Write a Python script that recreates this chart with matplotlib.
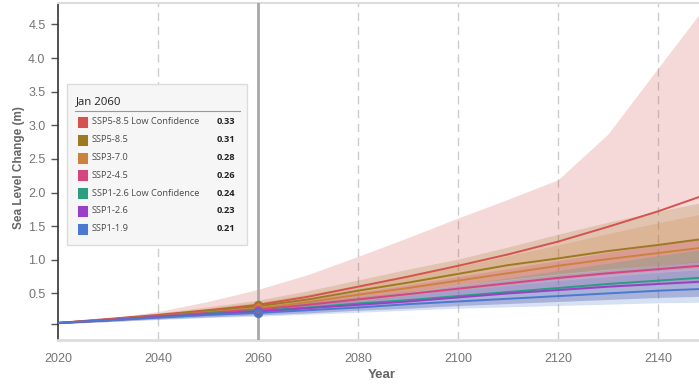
import matplotlib.pyplot as plt
import matplotlib.patches as mpatches
from matplotlib.colors import to_rgba

# decadal projection years
years = [2020, 2030, 2040, 2050, 2060, 2070, 2080, 2090, 2100, 2110, 2120, 2130, 2140, 2150]

scenarios = ['SSP5-8.5 Low Confidence', 'SSP5-8.5', 'SSP3-7.0', 'SSP2-4.5',
             'SSP1-2.6 Low Confidence', 'SSP1-2.6', 'SSP1-1.9']
colors = ['#d5534f', '#9c7a22', '#cb823f', '#d3467f', '#2b9d80', '#9a40c6', '#4c78cf']

# median (m)
ssp585_lc_med = [0.06, 0.12, 0.18, 0.25, 0.33, 0.45, 0.60, 0.75, 0.91, 1.08, 1.27, 1.49, 1.72, 1.98]
ssp585_med = [0.06, 0.11, 0.17, 0.24, 0.31, 0.41, 0.54, 0.66, 0.79, 0.92, 1.02, 1.13, 1.22, 1.32]
ssp370_med = [0.06, 0.11, 0.16, 0.22, 0.28, 0.37, 0.48, 0.58, 0.69, 0.80, 0.91, 1.01, 1.10, 1.19]
ssp245_med = [0.06, 0.11, 0.16, 0.21, 0.26, 0.33, 0.41, 0.49, 0.57, 0.65, 0.73, 0.80, 0.86, 0.92]
ssp126_lc_med = [0.06, 0.10, 0.15, 0.20, 0.24, 0.29, 0.35, 0.40, 0.46, 0.52, 0.58, 0.64, 0.69, 0.74]
ssp126_med = [0.06, 0.10, 0.15, 0.19, 0.23, 0.28, 0.33, 0.38, 0.44, 0.50, 0.55, 0.60, 0.64, 0.68]
ssp119_med = [0.06, 0.10, 0.14, 0.18, 0.21, 0.25, 0.29, 0.34, 0.38, 0.42, 0.46, 0.50, 0.54, 0.57]

# 17th-83rd percentile range (m)
ssp585_lc_lo = [0.05, 0.09, 0.14, 0.19, 0.25, 0.33, 0.42, 0.52, 0.63, 0.71, 0.79, 0.86, 0.92, 0.98]
ssp585_lc_hi = [0.07, 0.13, 0.23, 0.38, 0.56, 0.78, 1.05, 1.33, 1.62, 1.90, 2.19, 2.87, 3.85, 4.82]
ssp585_lo = [0.05, 0.09, 0.14, 0.19, 0.25, 0.33, 0.42, 0.52, 0.63, 0.71, 0.79, 0.86, 0.92, 0.98]
ssp585_hi = [0.07, 0.13, 0.21, 0.30, 0.40, 0.54, 0.70, 0.86, 1.01, 1.19, 1.38, 1.56, 1.72, 1.87]
ssp370_lo = [0.05, 0.09, 0.13, 0.18, 0.23, 0.30, 0.38, 0.46, 0.55, 0.63, 0.71, 0.78, 0.84, 0.89]
ssp370_hi = [0.07, 0.13, 0.20, 0.28, 0.37, 0.49, 0.62, 0.76, 0.90, 1.06, 1.22, 1.39, 1.55, 1.70]
ssp245_lo = [0.05, 0.09, 0.13, 0.17, 0.21, 0.26, 0.31, 0.37, 0.44, 0.49, 0.54, 0.59, 0.63, 0.66]
ssp245_hi = [0.07, 0.13, 0.19, 0.26, 0.34, 0.43, 0.52, 0.63, 0.75, 0.87, 0.99, 1.11, 1.22, 1.33]
ssp126_lc_lo = [0.05, 0.08, 0.12, 0.15, 0.18, 0.21, 0.25, 0.28, 0.32, 0.35, 0.38, 0.41, 0.44, 0.46]
ssp126_lc_hi = [0.07, 0.12, 0.18, 0.24, 0.30, 0.37, 0.45, 0.53, 0.63, 0.73, 0.84, 0.95, 1.06, 1.17]
ssp126_lo = [0.05, 0.08, 0.12, 0.15, 0.18, 0.21, 0.25, 0.28, 0.32, 0.35, 0.38, 0.41, 0.44, 0.46]
ssp126_hi = [0.07, 0.12, 0.18, 0.23, 0.29, 0.36, 0.43, 0.51, 0.62, 0.70, 0.78, 0.85, 0.92, 0.99]
ssp119_lo = [0.05, 0.08, 0.11, 0.14, 0.16, 0.19, 0.22, 0.25, 0.28, 0.30, 0.32, 0.34, 0.36, 0.37]
ssp119_hi = [0.07, 0.12, 0.17, 0.22, 0.27, 0.33, 0.39, 0.46, 0.55, 0.62, 0.69, 0.75, 0.81, 0.86]

medians = [ssp585_lc_med, ssp585_med, ssp370_med, ssp245_med, ssp126_lc_med, ssp126_med, ssp119_med]
lows = [ssp585_lc_lo, ssp585_lo, ssp370_lo, ssp245_lo, ssp126_lc_lo, ssp126_lo, ssp119_lo]
highs = [ssp585_lc_hi, ssp585_hi, ssp370_hi, ssp245_hi, ssp126_lc_hi, ssp126_hi, ssp119_hi]

cursor_year = 2060
x_ticks = [2020, 2040, 2060, 2080, 2100, 2120, 2140]
y_ticks = [0.05, 0.5, 1.0, 1.5, 2.0, 2.5, 3.0, 3.5, 4.0, 4.5]
y_tick_labels = ['', '0.5', '1.0', '1.5', '2.0', '2.5', '3.0', '3.5', '4.0', '4.5']

W, H = 699, 385
fig = plt.figure(figsize=(W / 100, H / 100), dpi=100)


def px(x, y):
    """pixel position -> figure fraction"""
    return x / W, 1 - y / H


ax = fig.add_axes([58 / W, 1 - 340 / H, (W - 58) / W, (340 - 3) / H])
ax.set_xlim(2020, 2148.2)
ax.set_ylim(-0.193, 4.818)

# bands first, lines on top
for lo, hi, c in zip(lows, highs, colors):
    ax.fill_between(years, lo, hi, color=c, alpha=0.22, lw=0)
for med, c in zip(medians, colors):
    ax.plot(years, med, color=c, lw=1.4, zorder=3)

for xv in [2040, 2080, 2100, 2120, 2140]:
    ax.axvline(xv, color='#cccccc', lw=1, ls=(0, (6, 4)), zorder=0)
ax.axvline(cursor_year, color='#a8a8a8', lw=2, zorder=4)

i60 = years.index(cursor_year)
for med, c in zip(medians, colors):
    ax.plot(cursor_year, med[i60], 'o', ms=5.5, mfc=to_rgba(c, 0.35), mec=c, mew=1.2, zorder=5)

ax.set_xticks(x_ticks)
ax.set_yticks(y_ticks)
ax.set_yticklabels(y_tick_labels)
ax.tick_params(axis='x', length=0, pad=9, labelsize=9, labelcolor='#757575')
ax.tick_params(axis='y', length=5, width=1, color='#555555', pad=4, labelsize=9, labelcolor='#757575')
for lab in ax.get_xticklabels() + ax.get_yticklabels():
    lab.set_family('Liberation Sans')

ax.spines['right'].set_visible(False)
ax.spines['left'].set_color('#333333')
ax.spines['left'].set_linewidth(1.2)
ax.spines['top'].set_color('#dddddd')
ax.spines['top'].set_linewidth(1.5)
ax.spines['bottom'].set_color('#dddddd')
ax.spines['bottom'].set_linewidth(2)

fig.text(*px(19, 168), 'Sea Level Change (m)', rotation=90, ha='center', va='center',
         fontsize=8.5, fontweight='bold', color='#666666', family='Liberation Sans')
fig.text(*px(382, 375), 'Year', ha='center', va='center',
         fontsize=9.5, fontweight='bold', color='#666666', family='Liberation Sans')

# hover box for the cursor year
x0, y0 = px(67, 245)
box = mpatches.Rectangle((x0, y0), 180 / W, 161 / H, transform=fig.transFigure,
                         facecolor='#f6f6f6', edgecolor='#dcdcdc', lw=1, zorder=10)
fig.patches.append(box)
fig.text(*px(76, 102), 'Jan %d' % cursor_year, ha='left', va='center', fontsize=8.2,
         color='#222222', family='Open Sans', zorder=11)
fig.add_artist(plt.Line2D([75 / W, 240 / W], [1 - 110.5 / H] * 2, color='#999999', lw=0.8,
                          transform=fig.transFigure, zorder=11))
for k, (name, c, med) in enumerate(zip(scenarios, colors, medians)):
    yc = 122 + k * 17.8
    sx, sy = px(77, yc + 6)
    fig.patches.append(mpatches.Rectangle((sx, sy), 11 / W, 12 / H, transform=fig.transFigure,
                                          facecolor=c, edgecolor='white', lw=0.6, zorder=11))
    fig.text(*px(92, yc), name, ha='left', va='center', fontsize=6.7,
             color='#4a4a4a', family='Open Sans', zorder=11)
    fig.text(*px(235, yc), '%.2f' % med[i60], ha='right', va='center', fontsize=6.7,
             fontweight='bold', color='#222222', family='Open Sans', zorder=11)

fig.savefig('out.png', dpi=100)
